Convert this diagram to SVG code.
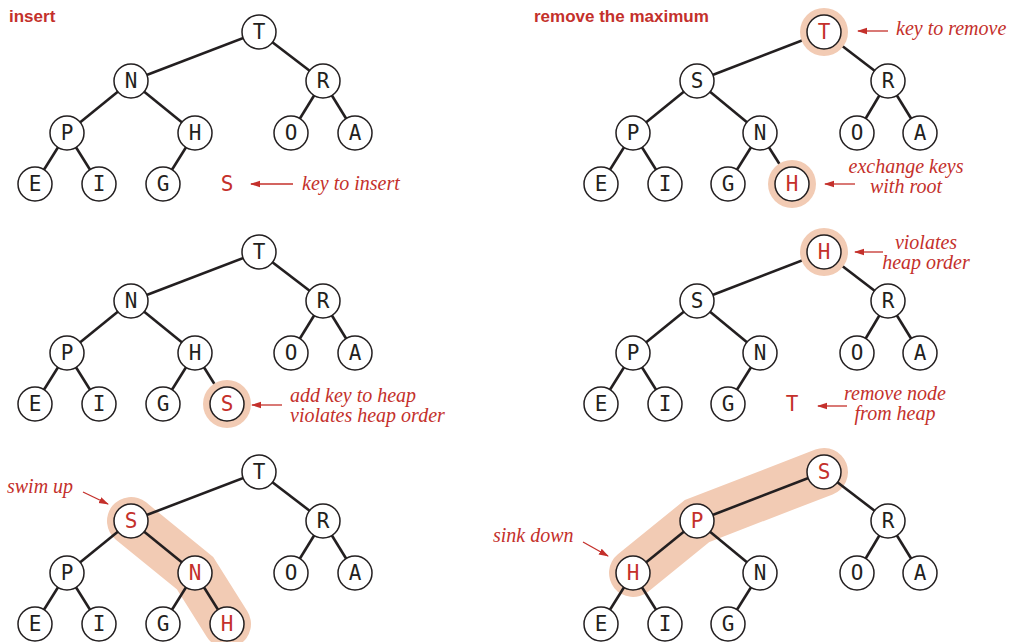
<svg xmlns="http://www.w3.org/2000/svg" width="1013" height="642" viewBox="0 0 1013 642">
<style>
.bg{fill:#fff}
.e line{stroke:#231f20;stroke-width:2.6}
.n circle.c{fill:#fff;stroke:#231f20;stroke-width:1.5}
.n text{font-family:"DejaVu Sans Mono","Liberation Mono",monospace;font-size:21px;fill:#231f20;text-anchor:middle;dominant-baseline:central}
.n text.r{fill:#c4302b}
.halo{fill:#f2cbb4}
.band{fill:none;stroke:#f2cbb4;stroke-width:48;stroke-linecap:round;stroke-linejoin:miter}
.title{font-family:"Liberation Sans",Arial,sans-serif;font-weight:bold;font-size:17px;fill:#c4302b}
.note{font-family:"Liberation Serif","Times New Roman",serif;font-style:italic;font-size:20px;fill:#c4302b}
.mid{text-anchor:middle}
.arr line{stroke:#c4302b;stroke-width:1.3;marker-end:url(#ah)}
</style>
<defs>
<marker id="ah" markerUnits="userSpaceOnUse" markerWidth="12" markerHeight="8" refX="9" refY="4" orient="auto">
<path d="M0,0.8 L10,4 L0,7.2 Z" fill="#c4302b"/>
</marker>
</defs>
<rect class="bg" width="1013" height="642"/>

<text class="title" x="9" y="22">insert</text>
<text class="title" x="534" y="22">remove the maximum</text>

<g id="bands">
<polyline class="band" points="131,521 195,573 227,624"/>
<polyline class="band" points="633,573 697,521 824,472"/>
</g>

<g id="connectors" class="e">
<!-- tree A -->
<line x1="259" y1="32" x2="131" y2="81"/><line x1="259" y1="32" x2="323" y2="81"/>
<line x1="131" y1="81" x2="67" y2="133"/><line x1="131" y1="81" x2="195" y2="133"/>
<line x1="323" y1="81" x2="291" y2="133"/><line x1="323" y1="81" x2="355" y2="133"/>
<line x1="67" y1="133" x2="35" y2="184"/><line x1="67" y1="133" x2="99" y2="184"/>
<line x1="195" y1="133" x2="163" y2="184"/>
<!-- tree B -->
<line x1="259" y1="252" x2="131" y2="301"/><line x1="259" y1="252" x2="323" y2="301"/>
<line x1="131" y1="301" x2="67" y2="353"/><line x1="131" y1="301" x2="195" y2="353"/>
<line x1="323" y1="301" x2="291" y2="353"/><line x1="323" y1="301" x2="355" y2="353"/>
<line x1="67" y1="353" x2="35" y2="404"/><line x1="67" y1="353" x2="99" y2="404"/>
<line x1="195" y1="353" x2="163" y2="404"/><line x1="195" y1="353" x2="227" y2="404"/>
<!-- tree C -->
<line x1="259" y1="472" x2="131" y2="521"/><line x1="259" y1="472" x2="323" y2="521"/>
<line x1="131" y1="521" x2="67" y2="573"/><line x1="131" y1="521" x2="195" y2="573"/>
<line x1="323" y1="521" x2="291" y2="573"/><line x1="323" y1="521" x2="355" y2="573"/>
<line x1="67" y1="573" x2="35" y2="624"/><line x1="67" y1="573" x2="99" y2="624"/>
<line x1="195" y1="573" x2="163" y2="624"/><line x1="195" y1="573" x2="227" y2="624"/>
<!-- tree D -->
<line x1="824" y1="32" x2="697" y2="81"/><line x1="824" y1="32" x2="888" y2="81"/>
<line x1="697" y1="81" x2="633" y2="133"/><line x1="697" y1="81" x2="760" y2="133"/>
<line x1="888" y1="81" x2="857" y2="133"/><line x1="888" y1="81" x2="920" y2="133"/>
<line x1="633" y1="133" x2="601" y2="184"/><line x1="633" y1="133" x2="665" y2="184"/>
<line x1="760" y1="133" x2="728" y2="184"/><line x1="760" y1="133" x2="792" y2="184"/>
<!-- tree E -->
<line x1="824" y1="252" x2="697" y2="301"/><line x1="824" y1="252" x2="888" y2="301"/>
<line x1="697" y1="301" x2="633" y2="353"/><line x1="697" y1="301" x2="760" y2="353"/>
<line x1="888" y1="301" x2="857" y2="353"/><line x1="888" y1="301" x2="920" y2="353"/>
<line x1="633" y1="353" x2="601" y2="404"/><line x1="633" y1="353" x2="665" y2="404"/>
<line x1="760" y1="353" x2="728" y2="404"/>
<!-- tree F -->
<line x1="824" y1="472" x2="697" y2="521"/><line x1="824" y1="472" x2="888" y2="521"/>
<line x1="697" y1="521" x2="633" y2="573"/><line x1="697" y1="521" x2="760" y2="573"/>
<line x1="888" y1="521" x2="857" y2="573"/><line x1="888" y1="521" x2="920" y2="573"/>
<line x1="633" y1="573" x2="601" y2="624"/><line x1="633" y1="573" x2="665" y2="624"/>
<line x1="760" y1="573" x2="728" y2="624"/>
</g>

<!-- tree A nodes -->
<g id="a-T" class="n"><circle class="c" cx="259" cy="32" r="17"/><text x="259" y="32">T</text></g>
<g id="a-N" class="n"><circle class="c" cx="131" cy="81" r="17"/><text x="131" y="81">N</text></g>
<g id="a-R" class="n"><circle class="c" cx="323" cy="81" r="17"/><text x="323" y="81">R</text></g>
<g id="a-P" class="n"><circle class="c" cx="67" cy="133" r="17"/><text x="67" y="133">P</text></g>
<g id="a-H" class="n"><circle class="c" cx="195" cy="133" r="17"/><text x="195" y="133">H</text></g>
<g id="a-O" class="n"><circle class="c" cx="291" cy="133" r="17"/><text x="291" y="133">O</text></g>
<g id="a-A" class="n"><circle class="c" cx="355" cy="133" r="17"/><text x="355" y="133">A</text></g>
<g id="a-E" class="n"><circle class="c" cx="35" cy="184" r="17"/><text x="35" y="184">E</text></g>
<g id="a-I" class="n"><circle class="c" cx="99" cy="184" r="17"/><text x="99" y="184">I</text></g>
<g id="a-G" class="n"><circle class="c" cx="163" cy="184" r="17"/><text x="163" y="184">G</text></g>
<g id="a-S" class="n"><text class="r" x="227" y="184">S</text></g>

<!-- tree B nodes -->
<g id="b-T" class="n"><circle class="c" cx="259" cy="252" r="17"/><text x="259" y="252">T</text></g>
<g id="b-N" class="n"><circle class="c" cx="131" cy="301" r="17"/><text x="131" y="301">N</text></g>
<g id="b-R" class="n"><circle class="c" cx="323" cy="301" r="17"/><text x="323" y="301">R</text></g>
<g id="b-P" class="n"><circle class="c" cx="67" cy="353" r="17"/><text x="67" y="353">P</text></g>
<g id="b-H" class="n"><circle class="c" cx="195" cy="353" r="17"/><text x="195" y="353">H</text></g>
<g id="b-O" class="n"><circle class="c" cx="291" cy="353" r="17"/><text x="291" y="353">O</text></g>
<g id="b-A" class="n"><circle class="c" cx="355" cy="353" r="17"/><text x="355" y="353">A</text></g>
<g id="b-E" class="n"><circle class="c" cx="35" cy="404" r="17"/><text x="35" y="404">E</text></g>
<g id="b-I" class="n"><circle class="c" cx="99" cy="404" r="17"/><text x="99" y="404">I</text></g>
<g id="b-G" class="n"><circle class="c" cx="163" cy="404" r="17"/><text x="163" y="404">G</text></g>
<g id="b-S" class="n"><circle class="halo" cx="227" cy="404" r="24"/><circle class="c" cx="227" cy="404" r="17"/><text class="r" x="227" y="404">S</text></g>

<!-- tree C nodes -->
<g id="c-T" class="n"><circle class="c" cx="259" cy="472" r="17"/><text x="259" y="472">T</text></g>
<g id="c-S" class="n"><circle class="c" cx="131" cy="521" r="17"/><text class="r" x="131" y="521">S</text></g>
<g id="c-R" class="n"><circle class="c" cx="323" cy="521" r="17"/><text x="323" y="521">R</text></g>
<g id="c-P" class="n"><circle class="c" cx="67" cy="573" r="17"/><text x="67" y="573">P</text></g>
<g id="c-N" class="n"><circle class="c" cx="195" cy="573" r="17"/><text class="r" x="195" y="573">N</text></g>
<g id="c-O" class="n"><circle class="c" cx="291" cy="573" r="17"/><text x="291" y="573">O</text></g>
<g id="c-A" class="n"><circle class="c" cx="355" cy="573" r="17"/><text x="355" y="573">A</text></g>
<g id="c-E" class="n"><circle class="c" cx="35" cy="624" r="17"/><text x="35" y="624">E</text></g>
<g id="c-I" class="n"><circle class="c" cx="99" cy="624" r="17"/><text x="99" y="624">I</text></g>
<g id="c-G" class="n"><circle class="c" cx="163" cy="624" r="17"/><text x="163" y="624">G</text></g>
<g id="c-H" class="n"><circle class="c" cx="227" cy="624" r="17"/><text class="r" x="227" y="624">H</text></g>

<!-- tree D nodes -->
<g id="d-T" class="n"><circle class="halo" cx="824" cy="32" r="24"/><circle class="c" cx="824" cy="32" r="17"/><text class="r" x="824" y="32">T</text></g>
<g id="d-S" class="n"><circle class="c" cx="697" cy="81" r="17"/><text x="697" y="81">S</text></g>
<g id="d-R" class="n"><circle class="c" cx="888" cy="81" r="17"/><text x="888" y="81">R</text></g>
<g id="d-P" class="n"><circle class="c" cx="633" cy="133" r="17"/><text x="633" y="133">P</text></g>
<g id="d-N" class="n"><circle class="c" cx="760" cy="133" r="17"/><text x="760" y="133">N</text></g>
<g id="d-O" class="n"><circle class="c" cx="857" cy="133" r="17"/><text x="857" y="133">O</text></g>
<g id="d-A" class="n"><circle class="c" cx="920" cy="133" r="17"/><text x="920" y="133">A</text></g>
<g id="d-E" class="n"><circle class="c" cx="601" cy="184" r="17"/><text x="601" y="184">E</text></g>
<g id="d-I" class="n"><circle class="c" cx="665" cy="184" r="17"/><text x="665" y="184">I</text></g>
<g id="d-G" class="n"><circle class="c" cx="728" cy="184" r="17"/><text x="728" y="184">G</text></g>
<g id="d-H" class="n"><circle class="halo" cx="792" cy="184" r="24"/><circle class="c" cx="792" cy="184" r="17"/><text class="r" x="792" y="184">H</text></g>

<!-- tree E nodes -->
<g id="e-H" class="n"><circle class="halo" cx="824" cy="252" r="24"/><circle class="c" cx="824" cy="252" r="17"/><text class="r" x="824" y="252">H</text></g>
<g id="e-S" class="n"><circle class="c" cx="697" cy="301" r="17"/><text x="697" y="301">S</text></g>
<g id="e-R" class="n"><circle class="c" cx="888" cy="301" r="17"/><text x="888" y="301">R</text></g>
<g id="e-P" class="n"><circle class="c" cx="633" cy="353" r="17"/><text x="633" y="353">P</text></g>
<g id="e-N" class="n"><circle class="c" cx="760" cy="353" r="17"/><text x="760" y="353">N</text></g>
<g id="e-O" class="n"><circle class="c" cx="857" cy="353" r="17"/><text x="857" y="353">O</text></g>
<g id="e-A" class="n"><circle class="c" cx="920" cy="353" r="17"/><text x="920" y="353">A</text></g>
<g id="e-E" class="n"><circle class="c" cx="601" cy="404" r="17"/><text x="601" y="404">E</text></g>
<g id="e-I" class="n"><circle class="c" cx="665" cy="404" r="17"/><text x="665" y="404">I</text></g>
<g id="e-G" class="n"><circle class="c" cx="728" cy="404" r="17"/><text x="728" y="404">G</text></g>
<g id="e-T" class="n"><text class="r" x="792" y="404">T</text></g>

<!-- tree F nodes -->
<g id="f-S" class="n"><circle class="c" cx="824" cy="472" r="17"/><text class="r" x="824" y="472">S</text></g>
<g id="f-P" class="n"><circle class="c" cx="697" cy="521" r="17"/><text class="r" x="697" y="521">P</text></g>
<g id="f-R" class="n"><circle class="c" cx="888" cy="521" r="17"/><text x="888" y="521">R</text></g>
<g id="f-H" class="n"><circle class="c" cx="633" cy="573" r="17"/><text class="r" x="633" y="573">H</text></g>
<g id="f-N" class="n"><circle class="c" cx="760" cy="573" r="17"/><text x="760" y="573">N</text></g>
<g id="f-O" class="n"><circle class="c" cx="857" cy="573" r="17"/><text x="857" y="573">O</text></g>
<g id="f-A" class="n"><circle class="c" cx="920" cy="573" r="17"/><text x="920" y="573">A</text></g>
<g id="f-E" class="n"><circle class="c" cx="601" cy="624" r="17"/><text x="601" y="624">E</text></g>
<g id="f-I" class="n"><circle class="c" cx="665" cy="624" r="17"/><text x="665" y="624">I</text></g>
<g id="f-G" class="n"><circle class="c" cx="728" cy="624" r="17"/><text x="728" y="624">G</text></g>

<g id="annotations" class="arr">
<line x1="293" y1="184" x2="251" y2="184"/>
<line x1="282" y1="405" x2="252" y2="405"/>
<line x1="83" y1="492" x2="108" y2="504"/>
<line x1="888" y1="31" x2="858" y2="31"/>
<line x1="855" y1="184" x2="825" y2="184"/>
<line x1="883" y1="252" x2="855" y2="252"/>
<line x1="847" y1="406" x2="818" y2="406"/>
<line x1="583" y1="542" x2="608" y2="556"/>
</g>
<g id="notes">
<text class="note" x="302" y="190">key to insert</text>
<text class="note" x="290" y="402">add key to heap</text>
<text class="note" x="290" y="422">violates heap order</text>
<text class="note" x="7" y="493">swim up</text>
<text class="note" x="896" y="35">key to remove</text>
<text class="note mid" x="906" y="173">exchange keys</text>
<text class="note mid" x="906" y="193">with root</text>
<text class="note mid" x="926" y="249">violates</text>
<text class="note mid" x="926" y="269">heap order</text>
<text class="note mid" x="895" y="400">remove node</text>
<text class="note mid" x="895" y="420">from heap</text>
<text class="note" x="493" y="542">sink down</text>
</g>
</svg>
